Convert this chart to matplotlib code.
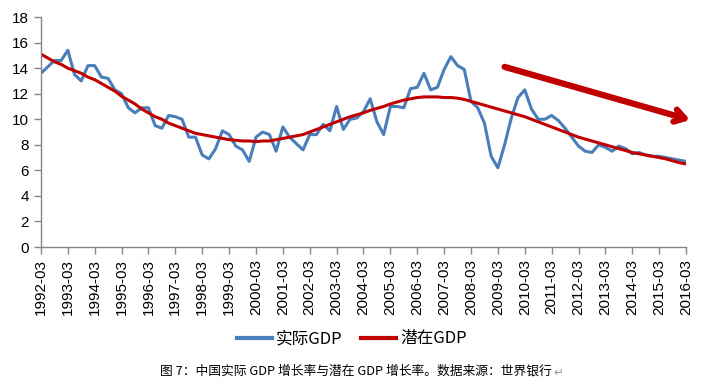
import matplotlib
matplotlib.use("Agg")
import matplotlib.pyplot as plt
import numpy as np

plt.rcParams['font.family'] = ['Liberation Sans', 'Noto Sans CJK SC', 'DejaVu Sans']

years = list(range(1992, 2017))
tick_labels = [f"{y}-03" for y in years]

actual_gdp = [
    13.6, 14.1, 14.6, 14.6,
    15.4, 13.5, 13.0, 14.2,
    14.2, 13.3, 13.2, 12.3,
    12.0, 10.9, 10.5, 10.9,
    10.9, 9.5, 9.3, 10.3,
    10.2, 10.0, 8.6, 8.6,
    7.2, 6.9, 7.7, 9.1,
    8.8, 7.9, 7.6, 6.7,
    8.6, 9.0, 8.8, 7.5,
    9.4, 8.6, 8.1, 7.6,
    8.8, 8.8, 9.6, 9.1,
    11.0, 9.2, 10.0, 10.1,
    10.6, 11.6, 9.8, 8.8,
    11.0, 11.0, 10.9, 12.4,
    12.5, 13.6, 12.3, 12.5,
    13.9, 14.9, 14.2, 13.9,
    11.4, 10.9, 9.7, 7.1,
    6.2, 8.0, 10.1, 11.7,
    12.3, 10.8, 10.0, 10.0,
    10.3, 9.9, 9.3, 8.6,
    7.9, 7.5, 7.4, 8.0,
    7.8, 7.5, 7.9, 7.7,
    7.3, 7.4, 7.2, 7.1,
    7.1, 7.0, 6.9, 6.8,
    6.7,
]

potential_gdp = [
    15.1, 14.8, 14.5, 14.3,
    14.0, 13.8, 13.6, 13.3,
    13.1, 12.8, 12.5, 12.2,
    11.8, 11.5, 11.2, 10.8,
    10.5, 10.2, 10.0, 9.7,
    9.5, 9.3, 9.1, 8.9,
    8.8, 8.7, 8.6, 8.5,
    8.4, 8.35, 8.3, 8.3,
    8.25, 8.3, 8.3, 8.4,
    8.5, 8.6, 8.7, 8.8,
    9.0, 9.2, 9.4, 9.6,
    9.8, 10.0, 10.2, 10.35,
    10.5, 10.7, 10.85, 11.0,
    11.2, 11.35, 11.5, 11.6,
    11.7, 11.75, 11.75, 11.75,
    11.7, 11.7, 11.65, 11.55,
    11.4, 11.25, 11.1, 10.95,
    10.8, 10.65, 10.5, 10.35,
    10.2, 10.0, 9.8, 9.6,
    9.4, 9.2, 9.0, 8.8,
    8.6, 8.45, 8.3, 8.15,
    8.0, 7.85, 7.7, 7.55,
    7.4, 7.3, 7.2, 7.1,
    7.0, 6.9, 6.75, 6.6,
    6.5,
]

legend_labels = ["实际GDP", "潜在GDP"]
caption = "图 7：中国实际 GDP 增长率与潜在 GDP 增长率。数据来源：世界银行"
arrow_start = (69.0, 14.1)
arrow_end = (96.6, 9.95)

blue = "#4A7EBB"
red = "#C00000"
axis_gray = "#868686"

fig = plt.figure(figsize=(7.06, 3.88), dpi=100)
ax = fig.add_axes([0.058, 0.3634, 0.9137, 0.5926])

x = np.arange(len(actual_gdp))
ax.plot(x, actual_gdp, color=blue, lw=2.2, label=legend_labels[0], solid_joinstyle='round')
ax.plot(x, potential_gdp, color=red, lw=2.2, label=legend_labels[1])

ax.set_xlim(0, len(actual_gdp) - 1)
ax.set_ylim(0, 18)
ax.set_yticks(np.arange(0, 19, 2))
ax.set_xticks(np.arange(0, len(actual_gdp), 4))
ax.set_xticklabels(tick_labels, rotation=90)

for s in ['top', 'right']:
    ax.spines[s].set_visible(False)
for s in ['left', 'bottom']:
    ax.spines[s].set_color(axis_gray)
    ax.spines[s].set_linewidth(1.0)
ax.tick_params(axis='both', colors=axis_gray, length=5, width=1.0, direction='out',
               labelcolor='black', labelsize=11)

ax.annotate("", xy=arrow_end, xytext=arrow_start, xycoords='data',
            arrowprops=dict(arrowstyle='->, head_length=0.7, head_width=0.45',
                            color=red, lw=4.5, shrinkA=0, shrinkB=0),
            annotation_clip=False)

leg = fig.legend(loc='center', bbox_to_anchor=(352 / 706, 1 - 339 / 388), ncol=2, frameon=False,
                 handlelength=2.1, columnspacing=1.1, handletextpad=0.25,
                 prop={'family': ['Noto Sans CJK SC', 'DejaVu Sans'], 'size': 12})
for line in leg.get_lines():
    line.set_linewidth(3)

cap = fig.text(160 / 706, 1 - 371 / 388, caption, ha='left', va='center', fontsize=9.2,
               family=['Noto Sans CJK SC', 'DejaVu Sans'])
fig.canvas.draw()
bb = cap.get_window_extent()
fig.text(bb.x1 / fig.bbox.width + 0.002, 1 - 372 / 388, "↵", ha='left', va='center',
         fontsize=8.5, color='#999999', family=['DejaVu Sans'])

fig.savefig("out.png", dpi=100)
